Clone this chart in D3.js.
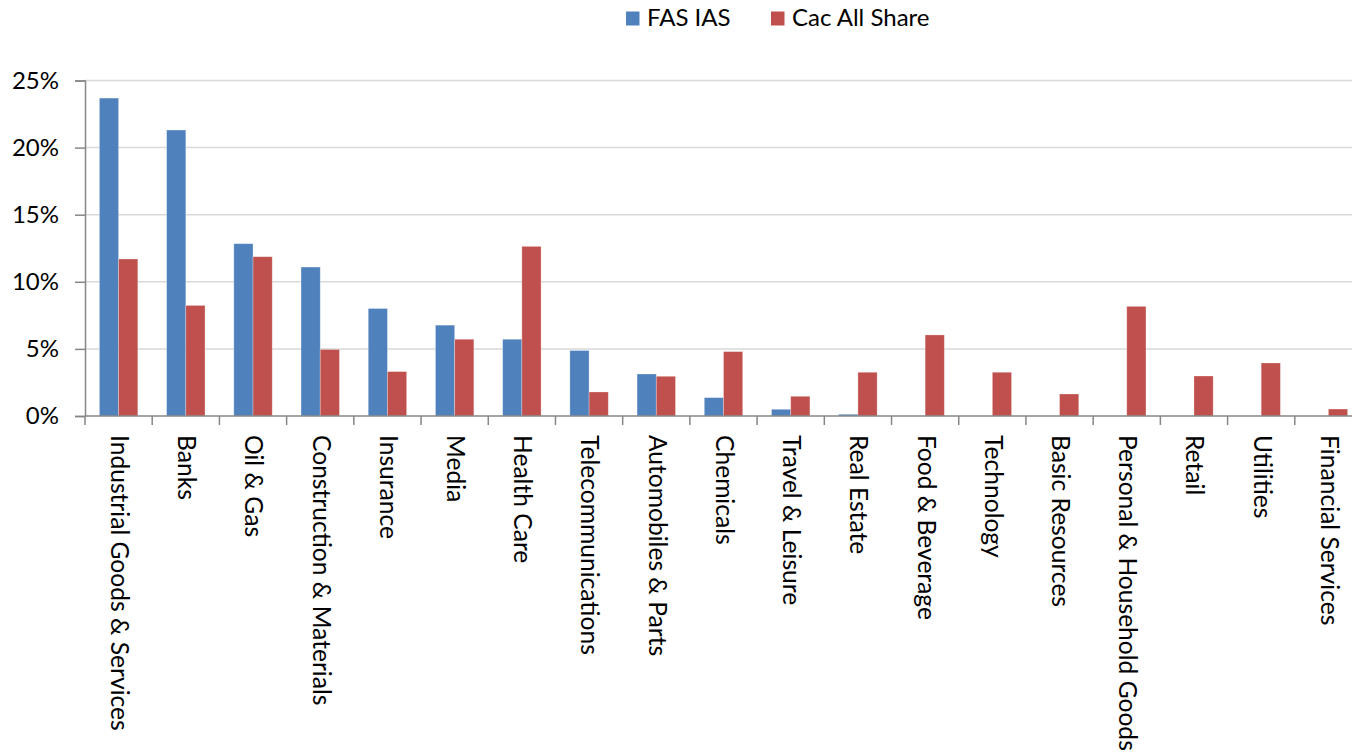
<!DOCTYPE html>
<html>
<head>
<meta charset="utf-8">
<script src="https://cdn.jsdelivr.net/npm/d3@7"></script>
<style>
  html, body { margin: 0; padding: 0; background: #fff; }
  svg { display: block; }
</style>
</head>
<body>
<svg id="chart" width="1352" height="755"></svg>
<script>
const categories = [
  "Industrial Goods & Services", "Banks", "Oil & Gas", "Construction & Materials",
  "Insurance", "Media", "Health Care", "Telecommunications", "Automobiles & Parts",
  "Chemicals", "Travel & Leisure", "Real Estate", "Food & Beverage", "Technology",
  "Basic Resources", "Personal & Household Goods", "Retail", "Utilities", "Financial Services"
];
const seriesNames = ["FAS IAS", "Cac All Share"];
const fasIas = [23.69, 21.31, 12.84, 11.10, 8.01, 6.77, 5.72, 4.88, 3.13, 1.37, 0.50, 0.13, 0, 0, 0, 0, 0, 0, 0];
const cacAllShare = [11.70, 8.24, 11.87, 4.96, 3.31, 5.72, 12.64, 1.79, 2.96, 4.80, 1.47, 3.26, 6.04, 3.26, 1.64, 8.17, 2.98, 3.95, 0.52];
const yTicks = [0, 5, 10, 15, 20, 25];
const colors = ["#4F81BD", "#C0504D"];

const font = "Lato, 'Open Sans', sans-serif";
const svg = d3.select("#chart");

const x0 = d3.scaleBand().domain(categories).range([85, 1362]).paddingInner(0).paddingOuter(0);
const x1 = d3.scaleBand().domain(seriesNames).range([0, x0.bandwidth()]).paddingInner(0).paddingOuter(0.75);
const y = d3.scaleLinear().domain([0, 25]).range([416, 80.5]);

// gridlines
svg.append("g")
  .selectAll("line").data(yTicks.filter(d => d > 0)).join("line")
  .attr("x1", 85).attr("x2", 1362)
  .attr("y1", d => y(d)).attr("y2", d => y(d))
  .attr("stroke", "#D9D9D9").attr("stroke-width", 1.5);

// bars
const data = categories.map((c, i) => ({ c, vals: [fasIas[i], cacAllShare[i]] }));
const groups = svg.append("g").selectAll("g").data(data).join("g")
  .attr("transform", d => `translate(${x0(d.c)},0)`);
groups.selectAll("rect")
  .data(d => d.vals.map((v, j) => ({ s: seriesNames[j], v, j })).filter(e => e.v > 0))
  .join("rect")
  .attr("x", e => x1(e.s))
  .attr("width", x1.bandwidth())
  .attr("y", e => y(e.v))
  .attr("height", e => y(0) - y(e.v))
  .attr("fill", e => colors[e.j])
  .attr("stroke", "rgba(255,255,255,0.35)")
  .attr("stroke-width", 0.8);

// y axis
const yAxis = d3.axisLeft(y).tickValues(yTicks).tickSize(10).tickPadding(16)
  .tickFormat(d => d + "%");
const yg = svg.append("g").attr("transform", "translate(85,0)").call(yAxis);
yg.select(".domain").attr("stroke", "#868686").attr("stroke-width", 1.5);
yg.selectAll(".tick line").attr("stroke", "#868686").attr("stroke-width", 1.5);
yg.selectAll(".tick text").attr("font-family", font).attr("font-size", 24).attr("fill", "#000");

// x axis
const xg = svg.append("g").attr("transform", "translate(0,416)");
xg.append("line").attr("x1", 85).attr("x2", 1362).attr("y1", 0).attr("y2", 0)
  .attr("stroke", "#868686").attr("stroke-width", 1.5);
xg.selectAll("line.tk").data(categories).join("line").attr("class", "tk")
  .attr("x1", d => x0(d)).attr("x2", d => x0(d))
  .attr("y1", 0).attr("y2", 9)
  .attr("stroke", "#868686").attr("stroke-width", 1.5);
xg.selectAll("text").data(categories).join("text")
  .attr("transform", d => `translate(${x0(d) + x0.bandwidth() / 2 + 1},19) rotate(90)`)
  .attr("text-anchor", "start")
  .attr("dy", "0.35em")
  .attr("font-family", font).attr("font-size", 24.6).attr("fill", "#000")
  .text(d => d);

// legend
const legendX = [626, 771];
const lg = svg.append("g").selectAll("g").data(seriesNames).join("g")
  .attr("transform", (d, i) => `translate(${legendX[i]},0)`);
lg.append("rect").attr("x", 0).attr("y", 11.5).attr("width", 13.5).attr("height", 14)
  .attr("fill", (d, i) => colors[i]);
lg.append("text").attr("x", 21).attr("y", 26)
  .attr("font-family", font).attr("font-size", 24).attr("fill", "#000")
  .text(d => d);
</script>
</body>
</html>
